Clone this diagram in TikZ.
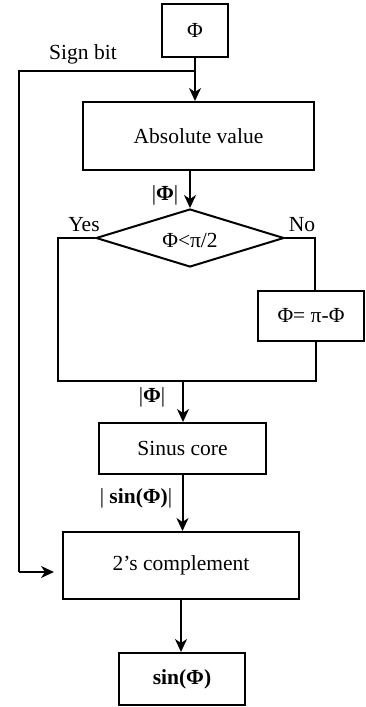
\documentclass[tikz,border=0pt]{standalone}
\usepackage{fontspec}
\setmainfont{Liberation Serif}
\usetikzlibrary{shapes.geometric,arrows.meta}
\begin{document}
\begin{tikzpicture}[x=1pt,y=-1pt,
  font=\fontsize{21.5}{25}\selectfont,
  box/.style={draw,line width=2pt,inner sep=0pt,rectangle},
  dec/.style={draw,line width=2pt,diamond,inner sep=0pt,minimum width=188pt,minimum height=58pt},
  flow/.style={line width=2pt,-{Stealth[length=13pt,width=12pt,inset=4pt]}},
  wire/.style={line width=1.5pt},
  lbl/.style={inner sep=0pt}]
\useasboundingbox (0,0) rectangle (366,707);
\node[box,minimum width=66pt,minimum height=53pt] (phi) at (195,30.5) {Φ};
\node[box,minimum width=231pt,minimum height=68pt] (abs) at (198.5,136) {Absolute value};
\node[dec] (dia) at (190,238) {};
\node[lbl] (dtxt) at (190,240) {Φ<π/2};
\node[box,minimum width=106pt,minimum height=50pt] (pim) at (311,316) {Φ= π-Φ};
\node[box,minimum width=167pt,minimum height=51pt] (sinus) at (182.5,448.5) {Sinus core};
\node[box,minimum width=236pt,minimum height=67pt] (comp) at (181,565.5) {2’s complement};
\node[box,minimum width=126pt,minimum height=52pt] (sinb) at (182,679) {\textbf{sin(Φ)}};
% labels
\node[lbl] (sign) at (83,54) {Sign bit};
\node[lbl] (l1) at (165,195) {|\textbf{Φ}|};
\node[lbl] (yes) at (84,225) {Yes};
\node[lbl] (no) at (302,225) {No};
\node[lbl] (l2) at (152,397) {|\textbf{Φ}|};
\node[lbl] (l3) at (136,498) {| \textbf{sin(Φ)}|};
% coordinates
\coordinate (sbj) at (195,71);
\coordinate (sbl) at (19,71);
\coordinate (sbb) at (19,572);
\coordinate (yl) at (58,238);
\coordinate (ylb) at (58,381);
\coordinate (nr) at (315,238);
\coordinate (nrt) at (315,291);
\coordinate (pb) at (316,341);
\coordinate (mrg) at (316,381);
\coordinate (mid) at (183,381);
% connectors
\draw[flow] (phi.south) -- (phi.south |- abs.north);
\draw[wire] (sbj) -- (sbl) -- (sbb);
\draw[flow,line width=1.5pt] (sbb) -- ([xshift=-8pt]comp.west |- sbb);
\draw[flow] (dia.north |- abs.south) -- (dia.north);
\draw[wire] (dia.west) -- (yl) -- (ylb) -- (mrg) -- (pb);
\draw[wire] (dia.east) -- (nr) -- (nrt);
\draw[flow] (mid) -- (mid |- sinus.north);
\draw[flow] (sinus.south) -- (sinus.south |- comp.north);
\draw[flow] (comp.south) -- (comp.south |- sinb.north);
\end{tikzpicture}
\end{document}
